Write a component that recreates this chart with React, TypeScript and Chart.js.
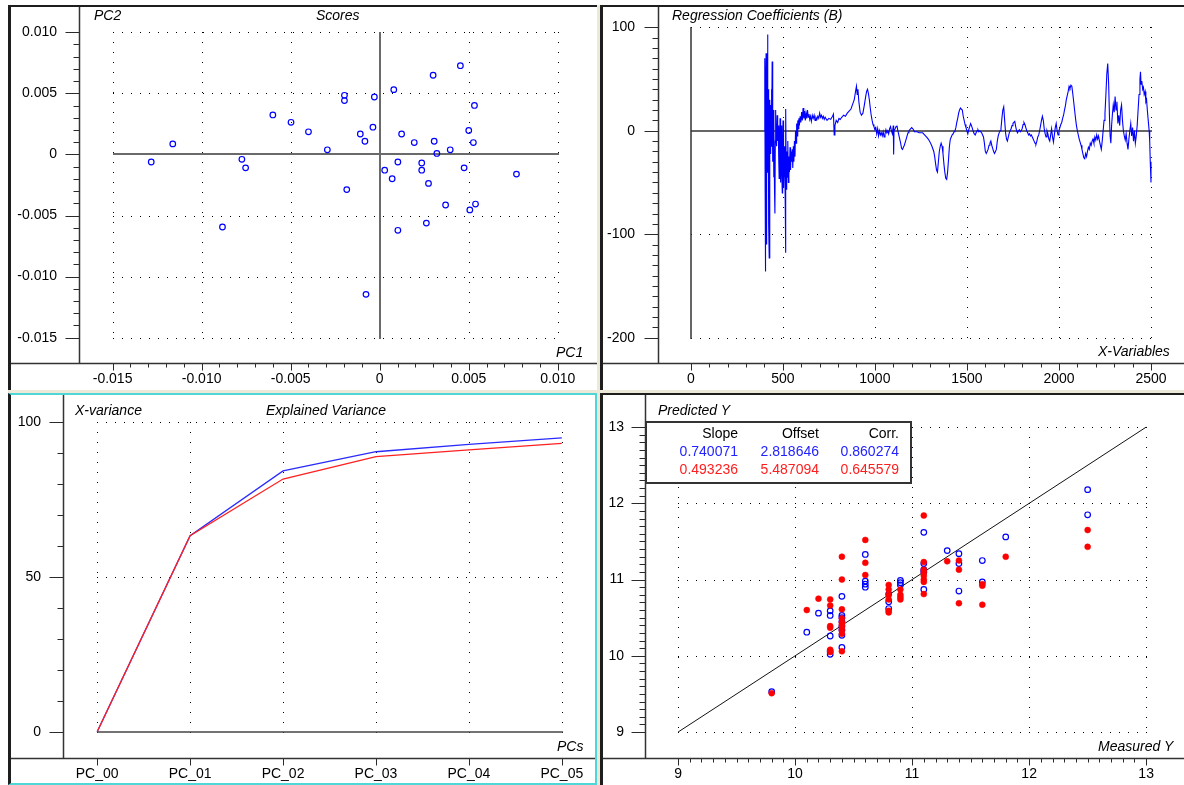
import React, { useEffect, useRef } from 'react';
import { Chart, registerables } from 'chart.js';

Chart.register(...registerables);

const FONT = "'Liberation Sans', Arial, Helvetica, sans-serif";
const BLUE = '#0000ff';
const RED = '#ff0000';

// ---------------- Scores (PC1 vs PC2) ----------------
const scoresPC1 = [-0.01283, -0.01162, -0.00883, -0.00774, -0.00753, -0.006, -0.00498, -0.004, -0.00294, -0.00198, -0.00198, -0.00185, -0.00109, -0.00083, -0.00077, -0.00038, -0.0003, 0.00028, 0.0007, 0.00079, 0.00102, 0.00102, 0.00123, 0.00194, 0.00236, 0.00236, 0.00262, 0.00274, 0.003, 0.00306, 0.00321, 0.0037, 0.00396, 0.00453, 0.00474, 0.005, 0.00506, 0.00526, 0.00532, 0.00538, 0.00768];
const scoresPC2 = [-0.00062, 0.00086, -0.00594, -0.0004, -0.0011, 0.00323, 0.00263, 0.00185, 0.00038, 0.00484, 0.00441, -0.00288, 0.00167, 0.00108, -0.01145, 0.00223, 0.0047, -0.00129, -0.00199, 0.0053, -0.00062, -0.00621, 0.00167, 0.00097, -0.0007, -0.00129, -0.00562, -0.00237, 0.00648, 0.00108, 0.00008, -0.00414, 0.00038, 0.00726, -0.0011, 0.00196, -0.00454, 0.00097, 0.00401, -0.00406, -0.00161];
const scoresTicks = [-0.015, -0.01, -0.005, 0, 0.005, 0.01];
const scoresTickLabels = ['-0.015', '-0.010', '-0.005', '0', '0.005', '0.010'];

// ---------------- Regression coefficients ----------------
const regVariables = [400, 402, 404, 405, 407, 409, 411, 413, 415, 417, 419, 421, 423, 426, 428, 430, 432, 434, 436, 438, 440, 442, 444, 446, 448, 450, 452, 455, 457, 459, 461, 463, 466, 469, 472, 475, 478, 480, 483, 485, 487, 489, 491, 493, 495, 497, 499, 501, 503, 505, 507, 509, 511, 513, 515, 516, 518, 520, 522, 524, 527, 530, 533, 536, 539, 542, 545, 548, 551, 554, 557, 560, 563, 566, 569, 572, 575, 578, 581, 584, 587, 590, 594, 598, 602, 606, 610, 614, 618, 622, 626, 630, 634, 638, 642, 646, 650, 655, 660, 665, 670, 675, 680, 685, 690, 695, 700, 705, 710, 715, 720, 725, 730, 740, 750, 760, 770, 775, 779, 783, 790, 798, 805, 812, 820, 830, 840, 850, 860, 870, 880, 888, 895, 900, 904, 908, 913, 920, 927, 935, 943, 950, 955, 960, 965, 970, 975, 980, 985, 990, 995, 1000, 1005, 1010, 1015, 1020, 1025, 1030, 1035, 1040, 1045, 1050, 1055, 1060, 1065, 1070, 1075, 1080, 1085, 1090, 1095, 1100, 1102, 1104, 1110, 1115, 1120, 1125, 1130, 1135, 1140, 1145, 1150, 1155, 1160, 1165, 1170, 1175, 1180, 1185, 1190, 1195, 1200, 1205, 1210, 1215, 1220, 1225, 1230, 1240, 1250, 1260, 1265, 1270, 1280, 1290, 1300, 1310, 1320, 1325, 1330, 1335, 1340, 1345, 1350, 1355, 1360, 1365, 1370, 1375, 1380, 1385, 1390, 1395, 1400, 1405, 1410, 1415, 1420, 1425, 1430, 1435, 1440, 1445, 1450, 1455, 1460, 1465, 1470, 1475, 1480, 1485, 1490, 1495, 1500, 1505, 1510, 1515, 1520, 1525, 1530, 1535, 1540, 1545, 1550, 1555, 1560, 1565, 1570, 1580, 1590, 1595, 1600, 1605, 1610, 1615, 1620, 1625, 1630, 1635, 1640, 1645, 1650, 1655, 1660, 1665, 1670, 1675, 1680, 1685, 1690, 1695, 1700, 1705, 1710, 1715, 1720, 1725, 1730, 1735, 1740, 1745, 1750, 1755, 1760, 1765, 1770, 1775, 1780, 1785, 1790, 1795, 1800, 1805, 1810, 1815, 1820, 1825, 1830, 1835, 1840, 1845, 1850, 1855, 1860, 1865, 1870, 1875, 1880, 1885, 1890, 1895, 1900, 1905, 1910, 1915, 1920, 1925, 1930, 1935, 1940, 1945, 1950, 1955, 1960, 1965, 1970, 1975, 1980, 1985, 1990, 1995, 2000, 2005, 2010, 2015, 2020, 2025, 2030, 2035, 2040, 2045, 2050, 2055, 2060, 2065, 2070, 2075, 2080, 2085, 2090, 2095, 2100, 2105, 2110, 2115, 2120, 2125, 2130, 2135, 2140, 2145, 2150, 2155, 2160, 2165, 2170, 2175, 2180, 2185, 2190, 2195, 2200, 2205, 2210, 2215, 2220, 2225, 2230, 2235, 2240, 2245, 2250, 2255, 2260, 2265, 2270, 2275, 2278, 2282, 2286, 2290, 2295, 2300, 2305, 2310, 2315, 2320, 2325, 2330, 2335, 2340, 2345, 2350, 2355, 2360, 2365, 2370, 2375, 2380, 2385, 2390, 2395, 2400, 2405, 2410, 2415, 2420, 2425, 2430, 2435, 2440, 2443, 2446, 2450, 2455, 2459, 2463, 2468, 2472, 2476, 2480, 2485, 2490, 2493, 2496, 2500];
const regCoefficients = [0, 70, -60, -136, 20, 75, -110, 50, -40, 93, -20, 40, -90, -123, 10, 30, -22, 25, -15, 40, -10, 67, 0, -30, 20, -45, 10, -60, -80, -10, 20, -5, -15, 15, -10, 5, -30, -46, -10, 12, -20, -50, -15, 5, -40, -60, -20, 10, -35, -55, -25, -45, -15, -70, -118, 21, -30, -57, -20, -45, -10, -50, -25, -40, -16, -38, -20, -30, -18, -36, -15, -30, -10, -25, 0, -12, 7, -5, 10, 2, 12, 5, 14, 8, 18, 10, 22, 12, 19, 10, 17, 12, 20, 13, 16, 11, 14, 9, 15, 12, 15, 10, 13, 11, 14, 12, 17, 13, 15, 12, 14, 11, 13, 10, 12, 11, 14, 16, -4, 5, 10, 8, 12, 11, 13, 15, 14, 17, 19, 21, 26, 30, 38, 43, 35, 40, 28, 18, 15, 17, 25, 33, 38, 40, 36, 30, 22, 15, 10, 6, 4, 1, 3, -3, 2, -5, 0, -4, -2, -5, -1, -6, -3, 1, -2, 0, -3, 2, 4, 0, -3, 5, -23, 0, 2, 4, 5, 0, -4, -8, -12, -17, -18, -16, -14, -11, -8, -5, -2, 0, 1, 2, 3, 2, 1, -1, -1, -1, -1, -2, -2, -2, -3, -4, -6, -8, -11, -15, -20, -25, -32, -38, -40, -30, -20, -15, -12, -15, -22, -32, -40, -46, -47, -40, -28, -15, -8, -6, -4, -3, -1, 0, 3, 8, 12, 17, 20, 22, 21, 20, 14, 10, 6, 3, 0, -3, 1, 4, 7, 5, 2, -1, -3, -4, -2, 0, 1, -1, 0, -2, -6, -12, -20, -22, -20, -18, -14, -12, -10, -14, -17, -20, -22, -20, -18, -10, -5, -2, 0, 2, 12, 20, 23, 10, -2, -8, -10, -6, -2, 0, 2, 5, 7, 8, 9, 4, 0, -2, 0, 1, -1, 0, 2, 6, 8, 6, 3, 0, -2, -4, -3, -5, -4, -6, -8, -10, -12, -13, -10, -6, -4, 0, 5, 10, 14, 10, 2, -3, -6, 0, -3, -8, -10, -4, 2, -6, -11, -4, 3, 7, 0, -4, 0, 3, 6, 8, 12, 15, 20, 24, 30, 34, 38, 43, 41, 44, 43, 36, 28, 20, 12, 5, 0, -4, -8, -11, -14, -18, -22, -26, -27, -22, -25, -20, -16, -18, -12, -14, -10, -8, -12, -6, -9, -4, -8, -5, -10, -14, -18, -10, 0, 10, 17, 35, 55, 65, 45, 10, -5, -12, 5, 15, 25, 18, 33, 20, 28, 7, 15, 5, 20, 25, 10, 0, -5, -9, -3, -12, -18, -8, 0, 7, -5, 3, -10, 0, -12, -5, 5, 20, 35, 50, 57, 45, 48, 40, 42, 35, 38, 28, 30, 20, 10, 0, -10, -30, -50];
const regXTicks = [0, 500, 1000, 1500, 2000, 2500];
const regXTickLabels = ['0', '500', '1000', '1500', '2000', '2500'];
const regYTicks = [-200, -100, 0, 100];
const regYTickLabels = ['-200', '-100', '0', '100'];

// ---------------- Explained variance ----------------
const pcLabels = ['PC_00', 'PC_01', 'PC_02', 'PC_03', 'PC_04', 'PC_05'];
const varianceCalibration = [0, 63.2, 84.1, 90.3, 92.7, 94.8];
const varianceValidation = [0, 63.2, 81.5, 88.7, 90.9, 93.0];
const varYTicks = [0, 50, 100];
const varYTickLabels = ['0', '50', '100'];

// ---------------- Predicted vs measured ----------------
const calMeasured = [9.8, 10.1, 10.2, 10.3, 10.3, 10.3, 10.3, 10.3, 10.4, 10.4, 10.4, 10.4, 10.4, 10.4, 10.4, 10.4, 10.6, 10.6, 10.6, 10.6, 10.8, 10.8, 10.8, 10.9, 10.9, 10.9, 11.1, 11.1, 11.1, 11.1, 11.1, 11.3, 11.4, 11.4, 11.4, 11.6, 11.6, 11.8, 12.5, 12.5];
const calPredicted = [9.53, 10.31, 10.56, 10.59, 10.53, 10.26, 10.06, 10.02, 10.78, 10.53, 10.5, 10.45, 10.39, 10.34, 10.27, 10.11, 11.33, 10.98, 10.94, 10.9, 10.81, 10.71, 10.62, 10.99, 10.96, 10.93, 11.62, 11.21, 11.13, 11.1, 10.87, 11.38, 11.34, 11.21, 10.85, 11.25, 10.97, 11.56, 12.18, 11.85];
const valMeasured = [9.8, 10.1, 10.2, 10.3, 10.3, 10.3, 10.3, 10.3, 10.3, 10.4, 10.4, 10.4, 10.4, 10.4, 10.4, 10.4, 10.4, 10.4, 10.4, 10.6, 10.6, 10.6, 10.8, 10.8, 10.8, 10.8, 10.8, 10.8, 10.9, 10.9, 10.9, 10.9, 11.1, 11.1, 11.1, 11.1, 11.1, 11.1, 11.1, 11.1, 11.3, 11.4, 11.4, 11.4, 11.6, 11.6, 11.6, 11.8, 12.5, 12.5];
const valPredicted = [9.51, 10.6, 10.75, 10.74, 10.66, 10.39, 10.37, 10.08, 10.05, 11.3, 11.0, 10.61, 10.49, 10.44, 10.41, 10.38, 10.34, 10.29, 10.06, 11.52, 11.22, 11.06, 10.93, 10.87, 10.8, 10.74, 10.59, 10.57, 10.87, 10.8, 10.77, 10.74, 11.84, 11.23, 11.13, 11.09, 11.05, 11.0, 10.97, 10.81, 11.24, 11.25, 11.13, 10.69, 10.94, 10.92, 10.67, 11.3, 11.65, 11.43];
const targetLine = [9, 13];
const predTicks = [9, 10, 11, 12, 13];
const predTickLabels = ['9', '10', '11', '12', '13'];
const statsHeader = ['Slope', 'Offset', 'Corr.'];
const statsCalibration = ['0.740071', '2.818646', '0.860274'];
const statsValidation = ['0.493236', '5.487094', '0.645579'];

// ---------------- plugin: dotted grid, zero lines, axes, tick marks ----------------
const framePlugin: any = {
  id: 'frame',
  beforeDatasetsDraw(chart: any, _a: any, o: any) {
    const ctx = chart.ctx;
    const xs = chart.scales.x;
    const ys = chart.scales.y;
    const X = (v: number) => xs.getPixelForValue(v);
    const Y = (v: number) => ys.getPixelForValue(v);
    const xg: number[] = o.xGrid;
    const yg: number[] = o.yGrid;
    const gx0 = Math.round(X(xg[0]));
    const gx1 = Math.round(X(xg[xg.length - 1]));
    const gyT = Math.round(Y(yg[yg.length - 1]));
    const gyB = Math.round(Y(yg[0]));
    ctx.save();
    ctx.strokeStyle = '#000';
    ctx.lineWidth = 1;
    ctx.setLineDash([1, 9]);
    for (const v of xg) {
      if (o.zeroX !== undefined && o.zeroX !== null && v === o.zeroX) continue;
      const px = Math.round(X(v)) + 0.5;
      ctx.beginPath();
      ctx.moveTo(px, gyT);
      ctx.lineTo(px, gyB + 1);
      ctx.stroke();
    }
    ctx.setLineDash([1, 8]);
    for (const v of yg) {
      if (o.zeroY !== undefined && o.zeroY !== null && v === o.zeroY) continue;
      const py = Math.round(Y(v)) + 0.5;
      ctx.beginPath();
      ctx.moveTo(gx0, py);
      ctx.lineTo(gx1 + 1, py);
      ctx.stroke();
    }
    ctx.setLineDash([]);
    ctx.strokeStyle = o.zeroColor;
    ctx.lineWidth = o.zeroWidth;
    if (o.zeroY !== undefined && o.zeroY !== null) {
      const py = Math.round(Y(o.zeroY));
      ctx.beginPath();
      ctx.moveTo(gx0, py);
      ctx.lineTo(gx1 + 1, py);
      ctx.stroke();
    }
    if (o.zeroX !== undefined && o.zeroX !== null) {
      const px = Math.round(X(o.zeroX));
      ctx.beginPath();
      ctx.moveTo(px, gyT);
      ctx.lineTo(px, gyB + 1);
      ctx.stroke();
    }
    ctx.restore();
  },
  afterDraw(chart: any, _a: any, o: any) {
    const ctx = chart.ctx;
    const ca = chart.chartArea;
    const xs = chart.scales.x;
    const ys = chart.scales.y;
    const xg: number[] = o.xGrid;
    const yg: number[] = o.yGrid;
    const L = Math.round(ca.left) - 0.5;
    const B = Math.round(ca.bottom) + 0.5;
    ctx.save();
    ctx.strokeStyle = '#2a2a2a';
    ctx.lineWidth = 1;
    const seg = (x1: number, y1: number, x2: number, y2: number) => {
      ctx.beginPath();
      ctx.moveTo(x1, y1);
      ctx.lineTo(x2, y2);
      ctx.stroke();
    };
    // y ticks
    const yStep = o.yMinor;
    if (yStep) {
      const n = Math.round((yg[yg.length - 1] - yg[0]) / yStep);
      for (let i = 0; i <= n; i++) {
        const py = Math.round(ys.getPixelForValue(yg[0] + i * yStep)) + 0.5;
        seg(L - 6, py, L, py);
      }
    }
    for (const v of yg) {
      const py = Math.round(ys.getPixelForValue(v)) + 0.5;
      seg(L - 14, py, L, py);
    }
    // x ticks
    const xStep = o.xMinor;
    if (xStep) {
      const n = Math.round((xg[xg.length - 1] - xg[0]) / xStep);
      for (let i = 0; i <= n; i++) {
        const px = Math.round(xs.getPixelForValue(xg[0] + i * xStep)) + 0.5;
        seg(px, B, px, B + 4);
      }
    }
    for (const v of xg) {
      const px = Math.round(xs.getPixelForValue(v)) + 0.5;
      seg(px, B, px, B + 7);
    }
    // axis lines
    ctx.lineWidth = 1.5;
    ctx.strokeStyle = '#333';
    seg(L, 0, L, B);
    seg(0, B, chart.width, B);
    ctx.restore();
  },
};

function makeScales(s: any) {
  const tickFont = { family: FONT, size: 14 };
  return {
    x: {
      type: 'linear',
      position: 'bottom',
      min: s.xMin,
      max: s.xMax,
      bounds: 'data',
      grid: { display: false, drawTicks: false },
      border: { display: false },
      ticks: {
        autoSkip: false,
        maxRotation: 0,
        minRotation: 0,
        padding: 8,
        color: '#000',
        font: tickFont,
        callback: (_v: any, i: number) => s.xLabels[i],
      },
      afterBuildTicks: (sc: any) => {
        sc.ticks = s.xTicks.map((v: number) => ({ value: v }));
      },
      afterFit: (sc: any) => {
        sc.height = s.xHeight;
        sc.paddingLeft = 0;
        sc.paddingRight = 0;
        sc.paddingTop = 0;
        sc.paddingBottom = 0;
      },
    },
    y: {
      type: 'linear',
      position: 'left',
      min: s.yMin,
      max: s.yMax,
      bounds: 'data',
      grid: { display: false, drawTicks: false },
      border: { display: false },
      ticks: {
        autoSkip: false,
        padding: s.yPad,
        color: '#000',
        font: tickFont,
        callback: (_v: any, i: number) => s.yLabels[i],
      },
      afterBuildTicks: (sc: any) => {
        sc.ticks = s.yTicks.map((v: number) => ({ value: v }));
      },
      afterFit: (sc: any) => {
        sc.width = s.yWidth;
        sc.paddingLeft = 0;
        sc.paddingRight = 0;
        sc.paddingTop = 0;
        sc.paddingBottom = 0;
      },
    },
  };
}

function baseOptions(scales: any, frame: any) {
  return {
    responsive: false,
    maintainAspectRatio: false,
    animation: false,
    events: [],
    layout: { padding: 0 },
    scales,
    plugins: {
      legend: { display: false },
      tooltip: { enabled: false },
      frame,
    },
  };
}

const scoresConfig = () => ({
  type: 'scatter',
  data: {
    datasets: [
      {
        data: scoresPC1.map((x, i) => ({ x, y: scoresPC2[i] })),
        borderColor: BLUE,
        backgroundColor: 'rgba(0,0,0,0)',
        pointRadius: 2.8,
        pointBorderWidth: 1.2,
      },
    ],
  },
  options: baseOptions(
    makeScales({
      xMin: -0.01683, xMax: 0.01191, yMin: -0.01707, yMax: 0.01164,
      xTicks: scoresTicks, xLabels: scoresTickLabels, yTicks: scoresTicks, yLabels: scoresTickLabels,
      xHeight: 27, yWidth: 69, yPad: 23,
    }),
    { xGrid: scoresTicks, yGrid: scoresTicks, xMinor: 0.001, yMinor: 0.001, zeroX: 0, zeroY: 0, zeroColor: '#6a6a6a', zeroWidth: 2 }
  ),
  plugins: [framePlugin],
});

const regressionConfig = () => ({
  type: 'line',
  data: {
    datasets: [
      {
        data: regVariables.map((x, i) => ({ x, y: regCoefficients[i] })),
        borderColor: BLUE,
        borderWidth: 1.1,
        pointRadius: 0,
        tension: 0,
        fill: false,
      },
    ],
  },
  options: baseOptions(
    makeScales({
      xMin: -172.7, xMax: 2679.3, yMin: -224.45, yMax: 119.6,
      xTicks: regXTicks, xLabels: regXTickLabels, yTicks: regYTicks, yLabels: regYTickLabels,
      xHeight: 27, yWidth: 56, yPad: 24,
    }),
    { xGrid: regXTicks, yGrid: regYTicks, xMinor: 100, yMinor: 10, zeroX: 0, zeroY: 0, zeroColor: '#333', zeroWidth: 1.5 }
  ),
  plugins: [framePlugin],
});

const varianceConfig = () => ({
  type: 'line',
  data: {
    datasets: [
      {
        data: varianceCalibration.map((y, i) => ({ x: i, y })),
        borderColor: '#2a2aff',
        borderWidth: 1.3,
        pointRadius: 0,
        tension: 0,
        order: 2,
      },
      {
        data: varianceValidation.map((y, i) => ({ x: i, y })),
        borderColor: '#ff2020',
        borderWidth: 1.3,
        pointRadius: 0,
        tension: 0,
        order: 1,
      },
    ],
  },
  options: baseOptions(
    makeScales({
      xMin: -0.357, xMax: 5.357, yMin: -8.48, yMax: 108.6,
      xTicks: [0, 1, 2, 3, 4, 5], xLabels: pcLabels, yTicks: varYTicks, yLabels: varYTickLabels,
      xHeight: 25, yWidth: 53, yPad: 23,
    }),
    { xGrid: [0, 1, 2, 3, 4, 5], yGrid: varYTicks, xMinor: 0, yMinor: 10, zeroX: null, zeroY: 0, zeroColor: '#444', zeroWidth: 1.5 }
  ),
  plugins: [framePlugin],
});

const predictedConfig = () => ({
  type: 'scatter',
  data: {
    datasets: [
      {
        type: 'line',
        data: targetLine.map((v) => ({ x: v, y: v })),
        borderColor: '#111',
        borderWidth: 1,
        pointRadius: 0,
        order: 3,
      },
      {
        data: calMeasured.map((x, i) => ({ x, y: calPredicted[i] })),
        borderColor: BLUE,
        backgroundColor: 'rgba(0,0,0,0)',
        pointRadius: 2.8,
        pointBorderWidth: 1.2,
        order: 2,
      },
      {
        data: valMeasured.map((x, i) => ({ x, y: valPredicted[i] })),
        borderColor: RED,
        backgroundColor: RED,
        pointRadius: 3,
        pointBorderWidth: 0.5,
        order: 1,
      },
    ],
  },
  options: baseOptions(
    makeScales({
      xMin: 8.726, xMax: 13.279, yMin: 8.66, yMax: 13.353,
      xTicks: predTicks, xLabels: predTickLabels, yTicks: predTicks, yLabels: predTickLabels,
      xHeight: 27, yWidth: 43, yPad: 22,
    }),
    { xGrid: predTicks, yGrid: predTicks, xMinor: 0.1, yMinor: 0.1, zeroX: null, zeroY: null, zeroColor: '#000', zeroWidth: 1 }
  ),
  plugins: [framePlugin],
});

function ChartCanvas(props: { left: number; top: number; width: number; height: number; build: () => any }) {
  const ref = useRef<HTMLCanvasElement>(null);
  useEffect(() => {
    const chart = new Chart(ref.current as HTMLCanvasElement, props.build());
    return () => chart.destroy();
  }, []);
  return (
    <canvas
      ref={ref}
      width={props.width}
      height={props.height}
      style={{ position: 'absolute', left: props.left, top: props.top, width: props.width, height: props.height, display: 'block' }}
    />
  );
}

function Label(props: { left: number; top: number; text: string; italic?: boolean; color?: string }) {
  return (
    <div
      style={{
        position: 'absolute',
        left: props.left,
        top: props.top,
        fontFamily: FONT,
        fontSize: 14,
        fontStyle: props.italic === false ? 'normal' : 'italic',
        lineHeight: '16px',
        color: props.color || '#000',
        whiteSpace: 'nowrap',
      }}
    >
      {props.text}
    </div>
  );
}

function Cell(props: { right: number; top: number; text: string; color: string }) {
  return (
    <div
      style={{
        position: 'absolute',
        left: props.right - 120,
        width: 120,
        top: props.top,
        textAlign: 'right',
        fontFamily: FONT,
        fontSize: 14,
        lineHeight: '16px',
        color: props.color,
        whiteSpace: 'nowrap',
      }}
    >
      {props.text}
    </div>
  );
}

const DARK = '#1e1e1e';
const CYAN = '#4fd6d6';

export default function App() {
  const colRights = [738, 819, 899];
  return (
    <div style={{ position: 'fixed', left: 0, top: 0, width: 1184, height: 785, background: '#fff', overflow: 'hidden' }}>
      <div style={{ position: 'absolute', left: 8, top: 5, width: 1176, height: 780, background: '#ece9d8' }} />
      {/* panels */}
      <div style={{ position: 'absolute', left: 8, top: 5, width: 589, height: 385, boxSizing: 'border-box', background: '#fff', borderLeft: `3px solid ${DARK}`, borderTop: `2px solid ${DARK}` }} />
      <div style={{ position: 'absolute', left: 600, top: 5, width: 584, height: 385, boxSizing: 'border-box', background: '#fff', borderLeft: `3px solid ${DARK}`, borderTop: `2px solid ${DARK}` }} />
      <div style={{ position: 'absolute', left: 8, top: 393, width: 589, height: 392, boxSizing: 'border-box', background: '#fff', borderLeft: `3px solid ${DARK}`, borderTop: `2px solid ${CYAN}`, borderRight: `2px solid ${CYAN}`, borderBottom: `2px solid ${CYAN}` }} />
      <div style={{ position: 'absolute', left: 600, top: 393, width: 584, height: 392, boxSizing: 'border-box', background: '#fff', borderLeft: `3px solid ${DARK}`, borderTop: `2px solid ${DARK}` }} />

      <ChartCanvas left={11} top={7} width={586} height={383} build={scoresConfig} />
      <ChartCanvas left={603} top={7} width={581} height={383} build={regressionConfig} />
      <ChartCanvas left={11} top={395} width={584} height={388} build={varianceConfig} />
      <ChartCanvas left={603} top={395} width={581} height={390} build={predictedConfig} />

      <Label left={94} top={7} text="PC2" />
      <Label left={316} top={7} text="Scores" />
      <Label left={556} top={344} text="PC1" />

      <Label left={672} top={7} text="Regression Coefficients (B)" />
      <Label left={1098} top={343} text="X-Variables" />

      <Label left={75} top={402} text="X-variance" />
      <Label left={266} top={402} text="Explained Variance" />
      <Label left={557} top={738} text="PCs" />

      <Label left={658} top={402} text="Predicted Y" />
      <Label left={1098} top={738} text="Measured Y" />

      <div style={{ position: 'absolute', left: 645, top: 421, width: 267, height: 63, boxSizing: 'border-box', background: '#fff', border: '2px solid #333' }} />
      {statsHeader.map((t, i) => (
        <Cell key={'h' + i} right={colRights[i]} top={425} text={t} color="#000" />
      ))}
      {statsCalibration.map((t, i) => (
        <Cell key={'c' + i} right={colRights[i]} top={443} text={t} color="#2323ff" />
      ))}
      {statsValidation.map((t, i) => (
        <Cell key={'v' + i} right={colRights[i]} top={461} text={t} color="#ff1e1e" />
      ))}
    </div>
  );
}
